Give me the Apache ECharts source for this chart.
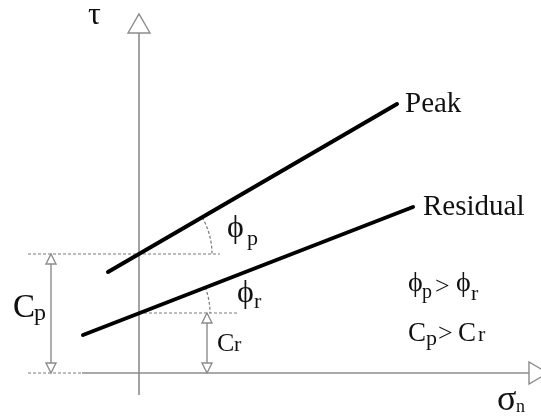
<!DOCTYPE html>
<html>
<head>
<meta charset="utf-8">
<script src="https://cdn.jsdelivr.net/npm/echarts@6/dist/echarts.min.js"></script>
<style>
  html, body { margin: 0; padding: 0; background: #ffffff; }
  #chart { width: 541px; height: 416px; }
</style>
</head>
<body>
<div id="chart"></div>
<script>
// Mohr–Coulomb strength envelopes: peak vs residual shear strength.
// Coordinates are in normal-stress / shear-stress units (σn, τ).

// Envelope end points [σn, τ]
const peakEnvelope = [[-3.1, 10.1], [25.8, 26.9]];
const residualEnvelope = [[-5.6, 3.8], [27.4, 16.6]];

// Cohesion intercepts on the τ axis
const cohesionPeak = 11.9;
const cohesionResidual = 6.0;

// Extents of the drawn axes
const tauAxisExtent = [-2.2, 34];
const sigmaAxisExtent = [-5.7, 39];

// Dashed guide extents along σn
const peakGuideExtent = [-11.1, 8.1];
const residualGuideExtent = [0, 9.9];
const baseGuideExtent = [-11.1, -5.7];

// Annotation pieces: text, anchor [σn, τ] at the text baseline, font size
const labelTexts = ['τ', 'Peak', 'Residual',
  'ϕ', 'p', 'ϕ', 'r',
  'C', 'p', 'C', 'r',
  'ϕ', 'p', '>', 'ϕ', 'r',
  'C', 'p', '>', 'C', 'r',
  'σ', 'n'];
const labelAnchors = [[-5.1, 34.7], [26.6, 25.9], [28.4, 15.6],
  [8.8, 13.4], [10.8, 12.6], [9.8, 6.9], [11.5, 6.3],
  [-12.6, 5.3], [-10.5, 5.1], [7.8, 2.0], [9.5, 2.0],
  [26.9, 8.0], [28.3, 7.3], [29.6, 7.7], [31.7, 8.0], [33.2, 7.1],
  [26.9, 3.0], [28.7, 2.6], [29.9, 3.0], [31.9, 3.0], [33.9, 3.0],
  [35.8, -4.0], [37.7, -4.0]];
const labelSizes = [32, 29, 29,
  32, 22, 32, 22,
  33, 24, 26, 22,
  28, 20, 26, 28, 22,
  27, 22, 26, 27, 22,
  36, 18];

const AXIS_GREY = '#8c8c8c';
const GUIDE_GREY = '#7a7a7a';
const INK = '#111111';
const FONT = '"Liberation Serif", "Times New Roman", "DejaVu Serif", serif';

const chart = echarts.init(document.getElementById('chart'), null, { renderer: 'canvas' });

function openTriangle(points) {
  return {
    type: 'polygon',
    shape: { points: points },
    style: { fill: '#ffffff', stroke: AXIS_GREY, lineWidth: 1.4 }
  };
}

function dimensionArrow(api, x, top) {
  const p0 = api.coord([x, 0]);
  const p1 = api.coord([x, top]);
  const w = 5, h = 10;
  return {
    type: 'group',
    children: [
      { type: 'line', shape: { x1: p0[0], y1: p0[1], x2: p1[0], y2: p1[1] },
        style: { stroke: AXIS_GREY, lineWidth: 1.4 } },
      openTriangle([[p1[0], p1[1]], [p1[0] - w, p1[1] + h], [p1[0] + w, p1[1] + h]]),
      openTriangle([[p0[0], p0[1]], [p0[0] - w, p0[1] - h], [p0[0] + w, p0[1] - h]])
    ]
  };
}

function angleArc(api, envelope, cohesion, radius) {
  const a = api.coord(envelope[0]);
  const b = api.coord(envelope[1]);
  const theta = Math.atan2(a[1] - b[1], b[0] - a[0]);
  const c = api.coord([0, cohesion]);
  const r = api.size([radius, 0])[0];
  return {
    type: 'arc',
    shape: { cx: c[0], cy: c[1], r: r, startAngle: -theta, endAngle: 0, clockwise: true },
    style: { stroke: GUIDE_GREY, lineWidth: 1.2, lineDash: [3, 2], fill: null }
  };
}

function guideSeries(extent, level) {
  return {
    type: 'line',
    data: [[extent[0], level], [extent[1], level]],
    symbol: 'none',
    silent: true,
    lineStyle: { color: GUIDE_GREY, width: 1.2, type: [3, 2] },
    z: 1
  };
}

const option = {
  animation: false,
  backgroundColor: '#ffffff',
  grid: { left: 28, top: 33, width: 500, height: 362 },
  xAxis: { type: 'value', min: -11.1, max: 38.9, show: false },
  yAxis: { type: 'value', min: -2.2, max: 34, show: false },
  series: [
    guideSeries(baseGuideExtent, 0),
    guideSeries(peakGuideExtent, cohesionPeak),
    guideSeries(residualGuideExtent, cohesionResidual),
    {
      // τ and σn axes with open arrowheads
      type: 'custom',
      clip: false,
      silent: true,
      z: 2,
      data: [[0, 0]],
      renderItem: function (params, api) {
        const t0 = api.coord([0, tauAxisExtent[0]]);
        const t1 = api.coord([0, tauAxisExtent[1]]);
        const s0 = api.coord([sigmaAxisExtent[0], 0]);
        const s1 = api.coord([sigmaAxisExtent[1], 0]);
        return {
          type: 'group',
          children: [
            { type: 'line', shape: { x1: t0[0], y1: t0[1], x2: t1[0], y2: t1[1] },
              style: { stroke: AXIS_GREY, lineWidth: 1.6 } },
            { type: 'line', shape: { x1: s0[0], y1: s0[1], x2: s1[0], y2: s1[1] },
              style: { stroke: AXIS_GREY, lineWidth: 1.6 } },
            openTriangle([[t1[0] - 11, t1[1]], [t1[0] + 11, t1[1]], [t1[0], t1[1] - 19]]),
            openTriangle([[s1[0], s1[1] - 11], [s1[0], s1[1] + 11], [s1[0] + 19, s1[1]]])
          ]
        };
      }
    },
    {
      // cohesion dimension arrows
      type: 'custom',
      clip: false,
      silent: true,
      z: 3,
      data: [[0, 0]],
      renderItem: function (params, api) {
        return {
          type: 'group',
          children: [
            dimensionArrow(api, -8.8, cohesionPeak),
            dimensionArrow(api, 6.8, cohesionResidual)
          ]
        };
      }
    },
    {
      // friction angle arcs
      type: 'custom',
      clip: false,
      silent: true,
      z: 3,
      data: [[0, 0]],
      renderItem: function (params, api) {
        return {
          type: 'group',
          children: [
            angleArc(api, peakEnvelope, cohesionPeak, 7.3),
            angleArc(api, residualEnvelope, cohesionResidual, 7.1)
          ]
        };
      }
    },
    {
      name: 'Peak',
      type: 'line',
      data: peakEnvelope,
      symbol: 'none',
      silent: true,
      z: 5,
      lineStyle: { color: '#000000', width: 4, cap: 'round' }
    },
    {
      name: 'Residual',
      type: 'line',
      data: residualEnvelope,
      symbol: 'none',
      silent: true,
      z: 5,
      lineStyle: { color: '#000000', width: 4, cap: 'round' }
    },
    {
      // text annotations
      type: 'custom',
      clip: false,
      silent: true,
      z: 6,
      data: labelAnchors.map(function (p, i) { return [p[0], p[1], i]; }),
      renderItem: function (params, api) {
        const i = api.value(2);
        const pt = api.coord([api.value(0), api.value(1)]);
        const size = labelSizes[i];
        return {
          type: 'text',
          style: {
            text: labelTexts[i],
            x: pt[0],
            y: pt[1] - 0.34 * size,
            font: size + 'px ' + FONT,
            fill: INK,
            align: 'left',
            verticalAlign: 'middle'
          }
        };
      }
    }
  ]
};

chart.setOption(option);
</script>
</body>
</html>
